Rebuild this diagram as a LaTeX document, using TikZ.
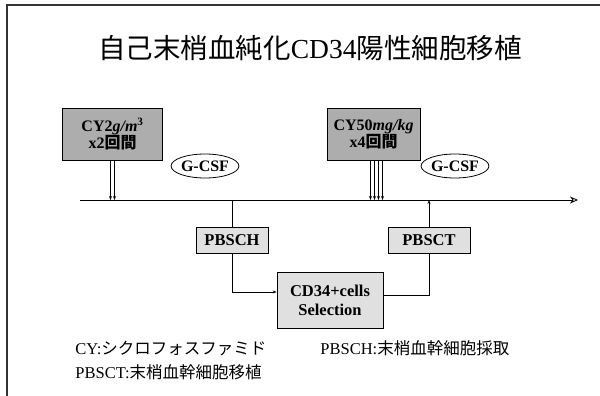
\documentclass[tikz,border=0pt]{standalone}
\usepackage{fontspec}
\setmainfont{Liberation Serif}
\newfontfamily\cjk{Noto Sans CJK JP}
\usetikzlibrary{arrows.meta,shapes.geometric}
\begin{document}
\begin{tikzpicture}[x=1pt,y=-1pt,
  line width=0.8pt,
  dosebox/.style={draw, fill=black!32, minimum width=100pt, minimum height=52pt, align=center, inner sep=1pt, font=\fontsize{16}{17}\selectfont\bfseries},
  stepbox/.style={draw, fill=black!12, minimum height=26pt, align=center, inner sep=2pt, font=\fontsize{16.5}{19}\selectfont\bfseries},
  gcsf/.style={draw, ellipse, minimum width=58pt, minimum height=24pt, inner sep=0pt, font=\fontsize{16}{18}\selectfont\bfseries},
  legend/.style={anchor=west, inner sep=0pt, font=\fontsize{16.5}{19}\selectfont},
  tip/.style={-{Stealth[length=4pt,width=3pt]}},
  axtip/.style={-{Stealth[open,length=8pt,width=7pt]}}
]
\useasboundingbox (0,0) rectangle (600,396);
\draw[line width=1.6pt, black!80] (7,396) -- (7,5) -- (600,5);

\node[font=\fontsize{27.5}{30}\selectfont] (title) at (310,48) {{\cjk 自己末梢血純化}CD34{\cjk 陽性細胞移植}};

\coordinate (ax0) at (80,200);
\coordinate (ax1) at (578,200);
\draw[axtip] (ax0) -- (ax1);

\node[dosebox] (cy1) at (112.5,134) {CY2\textit{g/m}$^{\mathbf 3}$\\ x2{\cjk\bfseries 回間}};
\node[dosebox, minimum width=93pt] (cy2) at (373.5,134) {CY50\textit{mg/kg}\\ x4{\cjk\bfseries 回間}};

\foreach \s in {-2,2}
  \draw[tip] ([xshift=\s pt]cy1.south) -- ([xshift=\s pt]cy1.south |- ax0);
\foreach \s in {-3,1,5,9}
  \draw[tip] ([xshift=\s pt]cy2.south) -- ([xshift=\s pt]cy2.south |- ax0);

\node[gcsf] (g1) at (205,166) {G-CSF};
\node[gcsf] (g2) at (455,166) {G-CSF};

\node[stepbox, minimum width=72pt] (pbsch) at (232,240) {PBSCH};
\node[stepbox, minimum width=82pt] (pbsct) at (429,240) {PBSCT};
\node[stepbox, minimum width=106pt, minimum height=56pt, inner sep=1pt] (sel) at (330,300) {CD34+cells\\Selection};

\draw (pbsch.north |- ax0) -- (pbsch.north);
\draw[tip] (pbsch.south) |- ([yshift=8pt]sel.west);
\draw ([yshift=5pt]sel.east) -| (pbsct.south);
\draw[tip] (pbsct.north) -- (pbsct.north |- ax0);

\node[legend] (l1) at (75,348) {CY:{\cjk シクロフォスファミド}};
\node[legend] (l2) at (75,372) {PBSCT:{\cjk 末梢血幹細胞移植}};
\node[legend] (l3) at (320,348) {PBSCH:{\cjk 末梢血幹細胞採取}};
\end{tikzpicture}
\end{document}
